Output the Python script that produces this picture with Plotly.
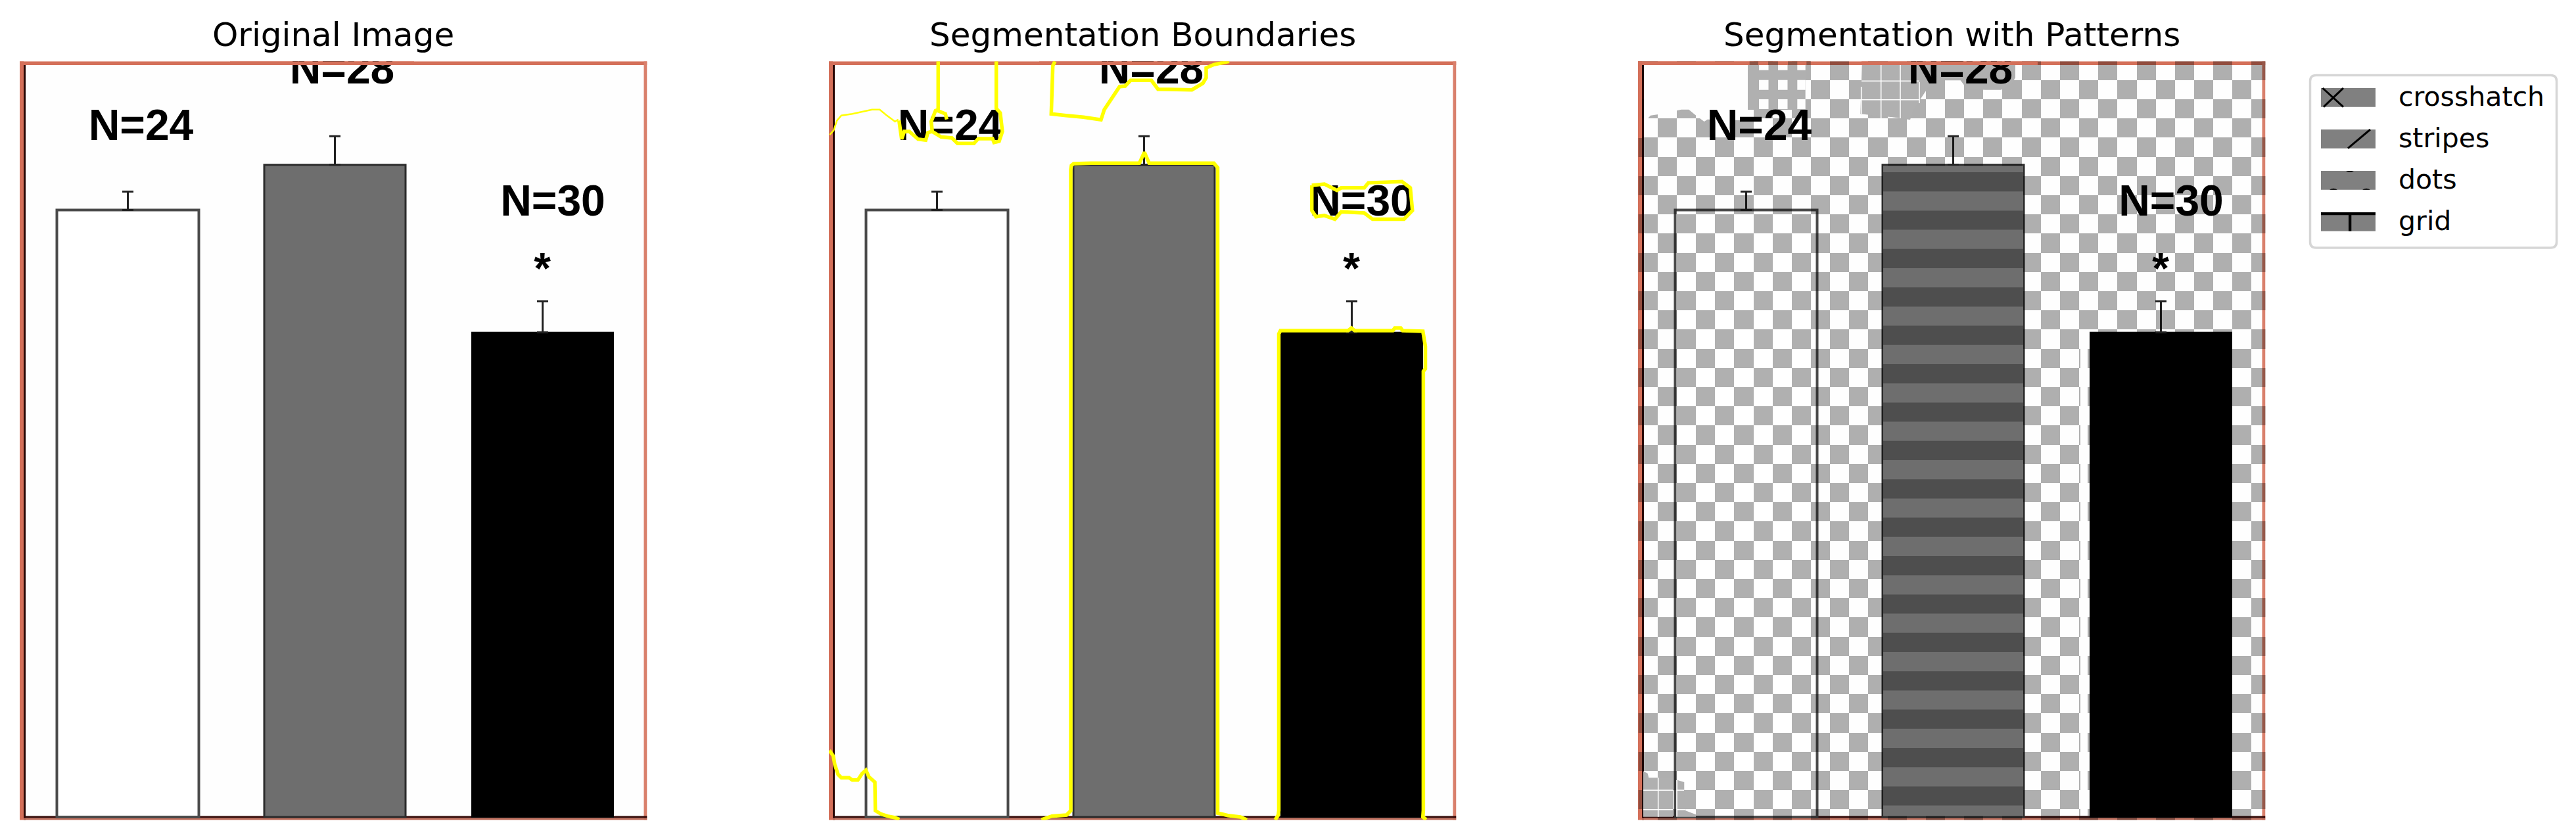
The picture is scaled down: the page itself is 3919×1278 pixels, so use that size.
import numpy as np
import plotly.graph_objects as go

W, H = 3919, 1278
panel_titles = ["Original Image", "Segmentation Boundaries", "Segmentation with Patterns"]
panel_left = [30, 1261, 2492]
panel_width = 954.5
panel_top_px, panel_bottom_px, baseline_px = 93.3, 1247.7, 1243.0
y_top = baseline_px - panel_top_px
y_bot = baseline_px - panel_bottom_px

# bars (values read in picture units above the base line)
bar_centers = [164.5, 479.5, 795.5]
bar_widths = [216, 215, 215]
bar_values = [923.5, 992.3, 737.2]
bar_errors = [28, 43.4, 47.4]
bar_fills = ["#ffffff", "#6e6e6e", "#000000"]
bar_lines = ["#4a4a4a", "#2b2b2b", "#000000"]
bar_line_widths = [4, 3, 2]

label_x = [184.5, 490.5, 811, 795]
label_y = [1046, 1132.7, 931, 828]
label_text = ["N=24", "N=28", "N=30", "*"]

# segmentation boundaries (panel 2)
boundary_thin = [
    ([1.3, 7.3, 12.3, 19, 35.7, 50.7, 65.7, 77.3, 87.3, 100.7, 105.7],
     [1038, 1044.7, 1059.7, 1067.3, 1069.7, 1073, 1076.3, 1076.3, 1068, 1058, 1061.3]),
]
boundary_thick = [
    ([166.3, 166.3, 162.3, 155.7, 157.3, 170.7, 187.3, 195.7, 220.7, 227.3, 249, 251.3, 259, 264, 260.7, 254.7, 254.7],
     [1149.7, 1076.3, 1074.7, 1058, 1043, 1034.7, 1033, 1024.7, 1024.7, 1032, 1032, 1026.3, 1028, 1043, 1071.3, 1078, 1149.7]),
    ([106.7, 109, 110.7, 114.7, 122.3, 135.7, 147.3, 150.7, 157.3],
     [1059.7, 1044.7, 1031.3, 1043, 1043, 1031.3, 1029.7, 1041.3, 1043]),
    ([164, 177.3, 179.3], [1075.3, 1069.7, 1061.3]),
    ([344, 340.7, 339.7, 338.3, 360.7, 387.3, 414, 419, 442.3, 450.7, 459, 490.7, 500.7, 529, 552.3, 569, 574, 574, 585.7, 609],
     [1149.7, 1143, 1111.3, 1069.7, 1067.3, 1064.7, 1060.7, 1076.3, 1111.3, 1112, 1120.7, 1120.7, 1107.3, 1106.3, 1106.3, 1116.3, 1124.7, 1139.7, 1144.7, 1149.7]),
    ([323.4, 339.3, 361.6, 368, 368, 369, 372.3, 399, 472.3, 480, 487.3, 585.7, 591.5, 591.5, 607, 626, 636],
     [-4, 1.3, 3, 9.7, 985, 991.3, 994, 994.7, 994.7, 1011.3, 994.7, 994.7, 988, 6, 2.3, 0, -4.3]),
    ([679, 683.7, 684.5, 684.5, 687, 790, 795, 800, 858, 861, 870, 873, 903.7, 907.5, 907.5, 904.4, 904.4, 903.7, 908.8],
     [-4.3, 3, 10, 735, 740, 740, 744, 740, 740, 744, 744, 740, 739, 716, 682, 678, 10, 0, -4]),
    ([734.7, 753.9, 773, 779.4, 814.5, 820.8, 871.9, 884.6, 887.8, 875, 827.2, 814.5, 779.4, 769.8, 753.9, 741.1, 734.7, 734.7],
     [961, 963, 953.4, 957.2, 957.2, 964.9, 966.8, 957.2, 922.8, 909.4, 909.4, 919, 920.8, 909.4, 915.1, 913.2, 922.8, 961]),
    ([0.7, 6.7, 9, 14, 19, 30.7, 35.7, 44, 50.7, 56.3, 60.7, 70, 70.7, 79, 89, 100.7, 107.3],
     [101.3, 93, 79.7, 64.7, 59.7, 59.7, 56.3, 56.3, 66.3, 71.3, 61.3, 53, 9.7, 4.7, 1.3, -1, -3.7]),
]

# pattern regions (panel 3)
cell_w, cell_h = 29.15, 29.2
cell_x0, cell_top_px = 0.6, 92.5
stripe_first_px, stripe_h = 262.0, 29.2
stripe_bar_x, stripe_bar_w = 479.5, 213
stripe_light, stripe_dark = "#6e6e6e", "#4e4e4e"
mask_white = ([9, 169, 169, 158, 105.7, 100.7, 87.3, 77.3, 65.7, 50.7, 35.7, 19, 12.3, 9],
              [1144, 1144, 1076, 1060, 1061.3, 1058, 1068, 1076.3, 1076.3, 1073, 1069.7, 1067.3, 1059.7, 1050])
mask_white_strip = ([673, 684, 684, 673], [738, 738, 2, 2])
mask_grey = [
    ([167, 254.7, 254.7, 167], [1144, 1144, 1076, 1076]),
    ([340.7, 574, 574, 569, 552.3, 529, 500.7, 490.7, 459, 450.7, 442.3, 419, 414, 387.3, 360.7, 338.3],
     [1144, 1144, 1124.7, 1116.3, 1106.3, 1106.3, 1107.3, 1120.7, 1120.7, 1112, 1111.3, 1076.3, 1060.7, 1064.7, 1067.3, 1069.7]),
    ([8, 14.7, 16.3, 29.7, 53, 53, 8], [69.7, 66.3, 59.7, 59.7, 59.7, 0.3, 0.3]),
    ([59.7, 70.3, 70.3, 72.3, 88, 88, 59.7], [56.3, 53, 41.3, 9.7, 3.7, 0.3, 0.3]),
]
white_square_x = [(184, 198.5), (213, 227.5), (242.3, 254.7)]
white_square_y = [(1144, 1136.3), (1121.3, 1106.3), (1092, 1077)]
white_lines = [
    ([369.7, 369.7], [1144, 1063]), ([399, 399], [1144, 1063]),
    ([339.7, 339.7], [1111, 1070]), ([428, 428], [1118, 1086]),
    ([340, 428], [1119.7, 1119.7]), ([340, 428], [1091.3, 1091.3]),
    ([30.7, 30.7], [59.7, 0.3]), ([59, 59], [56, 0.3]),
    ([8, 53], [40.7, 40.7]), ([59, 70], [40.7, 40.7]),
    ([8, 53], [11.3, 11.3]), ([59, 72], [11.3, 11.3]),
]
frame_patch_light = [(0, 262.3), (340, 608)]
frame_patch_dark = [(169.7, 183), (198, 213), (228, 242.3), (256.3, 262.3)]

legend_labels = ["crosshatch", "stripes", "dots", "grid"]
legend_swatch_top = [134, 197, 260, 323]

RED = "#d4705a"
fig = go.Figure()
suffix = ["", "2", "3", "4"]


def ref(i):
    return {"xaxis": "x" + suffix[i], "yaxis": "y" + suffix[i]}


def text_trace(i, idx=(0, 1, 2, 3)):
    return go.Scatter(x=[label_x[k] for k in idx], y=[label_y[k] for k in idx],
                      text=[label_text[k] for k in idx], mode="text",
                      textposition="middle center", cliponaxis=True, showlegend=False,
                      hoverinfo="skip",
                      textfont=dict(family="Liberation Sans", size=66, color="#000000", weight="bold"),
                      **ref(i))


def poly(i, xs, ys, color):
    return go.Scatter(x=list(xs) + [xs[0]], y=list(ys) + [ys[0]], mode="lines", fill="toself",
                      fillcolor=color, line=dict(width=0), hoverinfo="skip", showlegend=False, **ref(i))


for i in range(3):
    fig.add_trace(go.Bar(x=bar_centers, y=bar_values, width=bar_widths, base=0,
                         marker=dict(color=bar_fills, line=dict(color=bar_lines, width=bar_line_widths)),
                         error_y=dict(type="data", symmetric=False, array=bar_errors,
                                      arrayminus=[0, 0, 0], color="#222222", thickness=3, width=8.5),
                         showlegend=False, hoverinfo="skip", **ref(i)))
    if i < 2:
        fig.add_trace(text_trace(i))
        fig.add_trace(poly(i, [320, 600, 600, 320], [y_top, y_top, y_top - 5.7, y_top - 5.7], RED))

for xs, ys in boundary_thin:
    fig.add_trace(go.Scatter(x=xs, y=ys, mode="lines", line=dict(color="#ffff00", width=2.5),
                             hoverinfo="skip", showlegend=False, **ref(1)))
for xs, ys in boundary_thick:
    fig.add_trace(go.Scatter(x=xs, y=ys, mode="lines", line=dict(color="#ffff00", width=5.5),
                             hoverinfo="skip", showlegend=False, **ref(1)))

# checker overlay on panel 3, above the bars
cols = int(np.ceil(panel_width / cell_w))
rows = int(np.ceil((panel_bottom_px - cell_top_px) / cell_h))
cx = cell_x0 + cell_w * (np.arange(cols) + 0.5)
cy = baseline_px - (cell_top_px + cell_h * (np.arange(rows) + 0.5))
z = [[1 if (c + r) % 2 == 0 else None for c in range(cols)] for r in range(rows)]
fig.add_trace(go.Heatmap(x=cx, y=cy[::-1], z=z[::-1], zmin=0, zmax=1, showscale=False, hoverinfo="skip",
                         colorscale=[[0, "rgba(0,0,0,0.31)"], [1, "rgba(0,0,0,0.31)"]], **ref(3)))

# stripes of the middle bar in panel 3: uniform across the bar, above the checker
n_stripes = int((baseline_px - stripe_first_px) // (2 * stripe_h)) + 1
stripe_tops = baseline_px - (stripe_first_px + 2 * stripe_h * np.arange(n_stripes))
stripe_bases = np.maximum(stripe_tops - stripe_h, 1.5)
fig.add_trace(go.Bar(x=[stripe_bar_x], y=[bar_values[1] - 3], base=[1.5], width=[stripe_bar_w],
                     marker=dict(color=stripe_light, line=dict(width=0)), showlegend=False, hoverinfo="skip", **ref(3)))
fig.add_trace(go.Bar(x=[stripe_bar_x] * n_stripes, y=stripe_tops - stripe_bases, base=stripe_bases,
                     width=[stripe_bar_w] * n_stripes,
                     marker=dict(color=stripe_dark, line=dict(width=0)), showlegend=False, hoverinfo="skip", **ref(3)))

fig.add_trace(poly(3, mask_white[0], mask_white[1], "#fefefe"))
fig.add_trace(poly(3, mask_white_strip[0], mask_white_strip[1], "#fefefe"))
for xs, ys in mask_grey:
    fig.add_trace(poly(3, xs, ys, "#b0b0b0"))
for x0, x1 in white_square_x:
    for y0, y1 in white_square_y:
        fig.add_trace(poly(3, [x0, x1, x1, x0], [y0, y0, y1, y1], "#fefefe"))
for xs, ys in white_lines:
    fig.add_trace(go.Scatter(x=xs, y=ys, mode="lines", line=dict(color="#fefefe", width=1.6),
                             hoverinfo="skip", showlegend=False, **ref(3)))
fig.add_trace(text_trace(3))
for x0, x1 in frame_patch_light:
    fig.add_trace(poly(3, [x0, x1, x1, x0], [y_top, y_top, y_top - 5.7, y_top - 5.7], RED))
for x0, x1 in frame_patch_dark:
    fig.add_trace(poly(3, [x0, x1, x1, x0], [y_top, y_top, y_top - 5.7, y_top - 5.7], "#8f5445"))
fig.add_trace(poly(3, [0, 6, 6, 0], [y_top, y_top, 1033, 1033], RED))

shapes, annotations, axes = [], [], {}
for i, left in enumerate(panel_left):
    dom_x = [left / W, (left + panel_width) / W]
    dom_y = [1 - panel_bottom_px / H, 1 - panel_top_px / H]
    axes["xaxis" + suffix[i]] = dict(domain=dom_x, range=[0, panel_width], visible=False, fixedrange=True,
                                     anchor="y" + suffix[i])
    axes["yaxis" + suffix[i]] = dict(domain=dom_y, range=[y_bot, y_top], visible=False, fixedrange=True,
                                     anchor="x" + suffix[i])
    xr, yr = "x" + suffix[i], "y" + suffix[i]
    bands = [
        (0, 6, y_bot, y_top, RED),
        (6, 9, y_bot, y_top - 5, "#2a0805"),
        (0, panel_width, y_top - 5.7, y_top, RED),
        (panel_width - 5, panel_width, y_bot, y_top, "#d9806c"),
        (6, panel_width, y_bot, -1.5, "#bf6e5c"),
        (6, panel_width, -1.5, 1.5, "#320806"),
    ]
    for x0, x1, y0, y1, col in bands:
        shapes.append(dict(type="rect", xref=xr, yref=yr, x0=x0, x1=x1, y0=y0, y1=y1,
                           fillcolor=col, line_width=0, layer="below"))
    annotations.append(dict(text=panel_titles[i], xref="paper", yref="paper", showarrow=False,
                            x=(left + panel_width / 2) / W, xanchor="center",
                            y=1 - 53 / H, yanchor="middle",
                            font=dict(family="DejaVu Sans", size=50, color="#000000")))
axes["xaxis4"] = dict(overlaying="x3", range=[0, panel_width], visible=False, fixedrange=True, anchor="y4")
axes["yaxis4"] = dict(overlaying="y3", range=[y_bot, y_top], visible=False, fixedrange=True, anchor="x4")


# legend drawn in page pixels
def px(x):
    return x / W


def py(y):
    return 1 - y / H


def path(points, close=False):
    s = "M" + " L".join(f"{px(x):.6f},{py(y):.6f}" for x, y in points)
    return s + (" Z" if close else "")


bx0, bx1, by0, by1, r = 3514.5, 3889.5, 114.5, 377, 9
box = (f"M{px(bx0 + r):.6f},{py(by0):.6f} L{px(bx1 - r):.6f},{py(by0):.6f} Q{px(bx1):.6f},{py(by0):.6f} {px(bx1):.6f},{py(by0 + r):.6f} "
       f"L{px(bx1):.6f},{py(by1 - r):.6f} Q{px(bx1):.6f},{py(by1):.6f} {px(bx1 - r):.6f},{py(by1):.6f} "
       f"L{px(bx0 + r):.6f},{py(by1):.6f} Q{px(bx0):.6f},{py(by1):.6f} {px(bx0):.6f},{py(by1 - r):.6f} "
       f"L{px(bx0):.6f},{py(by0 + r):.6f} Q{px(bx0):.6f},{py(by0):.6f} {px(bx0 + r):.6f},{py(by0):.6f} Z")
shapes.append(dict(type="path", xref="paper", yref="paper", path=box, fillcolor="#ffffff",
                   line=dict(color="#d6d6d6", width=3.5)))
sx0, sx1, sh = 3531, 3614, 28.7
for label, top in zip(legend_labels, legend_swatch_top):
    shapes.append(dict(type="rect", xref="paper", yref="paper", x0=px(sx0), x1=px(sx1), y0=py(top), y1=py(top + sh),
                       fillcolor="#808080", line_width=0))
    annotations.append(dict(text=label, xref="paper", yref="paper", showarrow=False, x=px(3647), xanchor="left",
                            y=py(top + sh / 2 - 1), yanchor="middle",
                            font=dict(family="DejaVu Sans", size=41, color="#000000")))


def hatch(points):
    shapes.append(dict(type="path", xref="paper", yref="paper", path=path(points),
                       line=dict(color="#000000", width=3)))


def fill_path(p):
    shapes.append(dict(type="path", xref="paper", yref="paper", path=p, fillcolor="#000000", line_width=0))


t = legend_swatch_top
hatch([(3533.5, t[0]), (3565, t[0] + sh)])
hatch([(3565, t[0]), (3535, t[0] + sh)])
hatch([(3572, t[1] + sh), (3606, t[1])])
for cxp, ytop, sign in [(3575, t[2], 1), (3550, t[2] + sh, -1), (3600, t[2] + sh, -1)]:
    fill_path(f"M{px(cxp - 6):.6f},{py(ytop):.6f} Q{px(cxp):.6f},{py(ytop + sign * 4):.6f} {px(cxp + 6):.6f},{py(ytop):.6f} Z")
shapes.append(dict(type="rect", xref="paper", yref="paper", x0=px(sx0), x1=px(sx1), y0=py(t[3]), y1=py(t[3] + 4.3),
                   fillcolor="#000000", line_width=0))
shapes.append(dict(type="rect", xref="paper", yref="paper", x0=px(3573), x1=px(3577.3), y0=py(t[3]), y1=py(t[3] + sh),
                   fillcolor="#000000", line_width=0))

fig.update_layout(width=W, height=H, autosize=False, margin=dict(l=0, r=0, t=0, b=0, pad=0),
                  paper_bgcolor="#ffffff", plot_bgcolor="#fefefe", showlegend=False, barmode="overlay",
                  shapes=shapes, annotations=annotations, **axes)
fig.write_html("out.html", config={"displayModeBar": False},
               post_script="document.body.style.margin='0';document.documentElement.style.overflow='hidden';")
